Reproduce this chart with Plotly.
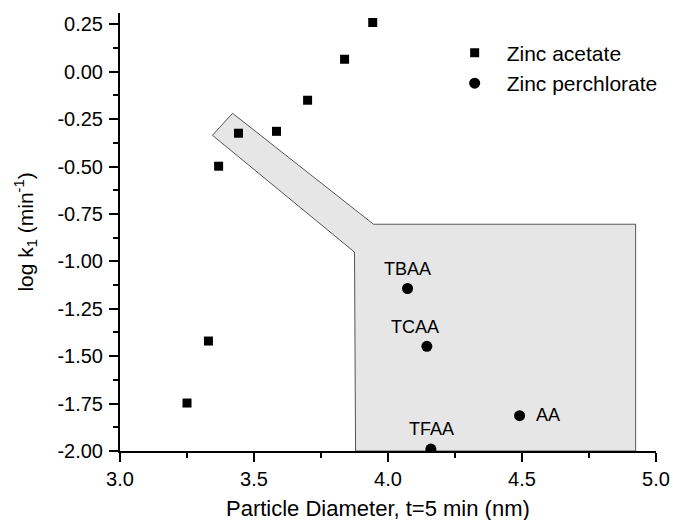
import plotly.graph_objects as go

# Zinc acetate series
acetate_x = [3.25, 3.33, 3.368, 3.442, 3.584, 3.70, 3.838, 3.943]
acetate_y = [-1.747, -1.42, -0.498, -0.324, -0.314, -0.15, 0.066, 0.26]

# Zinc perchlorate series with additive labels
perchlorate_x = [4.073, 4.145, 4.491, 4.160]
perchlorate_y = [-1.143, -1.448, -1.814, -1.99]
perchlorate_labels = ["TBAA", "TCAA", "AA", "TFAA"]

# Shaded guide region (outline vertices in data units)
region_x = [3.345, 3.420, 3.946, 4.924, 4.924, 3.879, 3.875, 3.345]
region_y = [-0.335, -0.219, -0.804, -0.804, -2.0, -2.0, -0.951, -0.335]

# Axis ticks
x_tick_vals = [3.0, 3.5, 4.0, 4.5, 5.0]
x_tick_labels = ["3.0", "3.5", "4.0", "4.5", "5.0"]
y_tick_vals = [-2.0, -1.75, -1.5, -1.25, -1.0, -0.75, -0.5, -0.25, 0.0, 0.25]
y_tick_labels = ["-2.00", "-1.75", "-1.50", "-1.25", "-1.00", "-0.75",
                 "-0.50", "-0.25", "0.00", "0.25"]

FONT = "Liberation Sans, Arial, sans-serif"

fig = go.Figure()

fig.add_trace(go.Scatter(
    x=region_x, y=region_y, mode="lines", fill="toself",
    fillcolor="#e6e6e6", line=dict(color="#555555", width=1),
    showlegend=False, hoverinfo="skip",
))

fig.add_trace(go.Scatter(
    x=acetate_x, y=acetate_y, mode="markers", name="Zinc acetate",
    marker=dict(symbol="square", size=9, color="black"),
))

fig.add_trace(go.Scatter(
    x=perchlorate_x, y=perchlorate_y, mode="markers", name="Zinc perchlorate",
    marker=dict(symbol="circle", size=11, color="black"),
))

# Text labels next to the perchlorate points
label_offsets = {
    "TBAA": dict(xshift=0, yshift=20, xanchor="center"),
    "TCAA": dict(xshift=-12, yshift=19, xanchor="center"),
    "AA": dict(xshift=14, yshift=1, xanchor="left"),
    "TFAA": dict(xshift=1, yshift=20, xanchor="center"),
}
for px, py, lab in zip(perchlorate_x, perchlorate_y, perchlorate_labels):
    fig.add_annotation(
        x=px, y=py, text=lab, showarrow=False,
        font=dict(family=FONT, size=18, color="black"),
        yanchor="middle", **label_offsets[lab],
    )

# x-axis title, set slightly left of the plot centre
fig.add_annotation(
    xref="paper", yref="paper", x=0.481, y=-0.132,
    xanchor="center", yanchor="middle", showarrow=False,
    text="Particle Diameter, t=5 min (nm)",
    font=dict(family=FONT, size=22, color="black"),
)

axis_common = dict(
    showline=True, linecolor="black", linewidth=2, mirror=False,
    ticks="outside", ticklen=9, tickwidth=2, tickcolor="black",
    showgrid=False, zeroline=False, automargin=False,
    tickfont=dict(family=FONT, size=20, color="black"),
)

fig.update_xaxes(
    range=[3.0, 5.0], tickvals=x_tick_vals, ticktext=x_tick_labels,
    minor=dict(ticks="outside", ticklen=5, tickwidth=2, tickcolor="black", dtick=0.25, showgrid=False),
    **axis_common,
)
fig.update_yaxes(
    range=[-2.0, 0.31], tickvals=y_tick_vals, ticktext=y_tick_labels,
    ticklabelstandoff=2,
    minor=dict(ticks="outside", ticklen=5, tickwidth=2, tickcolor="black", dtick=0.125, showgrid=False),
    title=dict(text="log k<sub>1</sub> (min<sup>-1</sup>)",
               font=dict(family=FONT, size=21, color="black"), standoff=18),
    **axis_common,
)

fig.update_layout(
    width=673, height=520,
    margin=dict(l=120, r=17, t=13, b=69, autoexpand=False),
    paper_bgcolor="white", plot_bgcolor="white",
    font=dict(family=FONT, color="black"),
    legend=dict(
        x=0.602, y=0.955, xanchor="left", yanchor="top",
        bgcolor="rgba(0,0,0,0)", borderwidth=0,
        font=dict(family=FONT, size=21, color="black"),
        itemwidth=54, tracegroupgap=0,
    ),
)

fig.write_html("out.html")
